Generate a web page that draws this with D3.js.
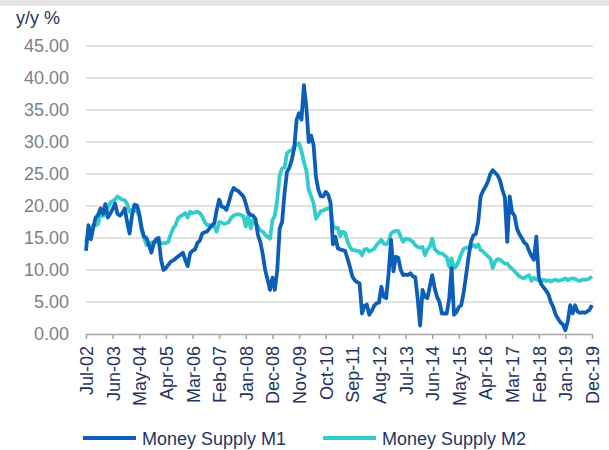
<!DOCTYPE html>
<html>
<head>
<meta charset="utf-8">
<script src="https://cdn.jsdelivr.net/npm/d3@7"></script>
<style>
  body { margin: 0; background: #fff; }
  svg { display: block; font-family: "Liberation Sans", Arial, sans-serif; }
</style>
</head>
<body>
<svg id="canvas" width="609" height="450"></svg>
<script>
// monthly y/y %, Jul-02 .. Dec-19 (210 months)
var m1 = [
  13.0, 17.0, 14.8, 16.6, 18.2, 18.6, 19.6, 18.8, 20.3, 18.2,
  18.8, 19.5, 20.4, 18.8, 18.5, 18.9, 19.6, 17.5, 15.7, 18.5,
  20.2, 20.1, 18.8, 16.5, 15.2, 15.0, 13.9, 12.7, 14.2, 14.8,
  15.0, 11.6, 10.0, 10.3, 10.8, 11.3, 11.5, 11.8, 12.1, 12.4,
  12.7, 11.6, 10.6, 12.6, 13.0, 13.2, 14.2, 14.6, 15.7, 15.9,
  16.0, 16.5, 17.0, 17.3, 19.4, 21.0, 19.9, 19.8, 19.4, 20.6,
  22.0, 22.8, 22.5, 22.3, 21.9, 21.5, 20.4, 19.0, 18.6, 18.5,
  18.0, 15.5, 14.4, 12.5, 10.0, 8.5, 6.9, 8.8, 6.9, 10.0,
  16.5, 17.5, 22.0, 25.3, 26.0, 27.2, 29.0, 33.5, 34.5, 33.5,
  38.9, 35.5, 30.0, 31.0, 29.5, 24.5, 22.5, 21.5, 21.5, 22.2,
  21.8, 20.5, 14.0, 15.2, 13.4, 13.2, 13.1, 13.0, 11.8, 10.5,
  9.0, 8.4, 8.1, 7.9, 3.2, 4.4, 4.6, 3.0, 3.6, 4.4,
  4.8, 4.9, 7.4, 5.8, 5.6, 9.5, 14.7, 9.8, 12.1, 11.9,
  10.0, 9.2, 9.3, 9.2, 9.5, 9.0, 8.9, 5.5, 1.3, 6.9,
  5.8, 5.6, 7.4, 9.2, 7.2, 5.8, 5.0, 3.2, 3.2, 3.2,
  5.5, 10.3, 3.0, 3.4, 4.2, 4.5, 6.5, 9.2, 12.0, 14.4,
  15.4, 15.6, 17.5, 21.5, 22.4, 23.0, 23.8, 25.0, 25.6, 25.2,
  24.8, 24.0, 22.5, 21.4, 14.4, 21.5, 19.0, 18.5, 16.5, 15.6,
  15.0, 14.3, 14.0, 13.0, 12.2, 11.6, 15.2, 9.0, 7.8, 7.3,
  6.8, 6.2, 5.0, 4.2, 3.0, 2.4, 1.8, 1.5, 0.6, 2.0,
  4.5, 3.2, 4.5, 3.5, 3.3, 3.4, 3.3, 3.5, 3.8, 4.5
];
var m2 = [
  14.4, 15.8, 16.5, 17.0, 17.0, 17.2, 19.0, 18.4, 19.0, 19.6,
  20.5, 20.8, 21.0, 21.5, 21.2, 21.0, 20.9, 20.3, 19.1, 19.4,
  19.4, 19.2, 18.4, 16.2, 15.0, 13.9, 13.9, 14.3, 14.4, 14.4,
  14.3, 14.2, 14.2, 14.2, 14.4, 15.6, 16.5, 17.0, 18.1, 18.4,
  18.6, 18.9, 18.2, 19.1, 18.9, 19.0, 19.1, 18.9, 18.4, 17.5,
  17.0, 17.0, 16.9, 16.8, 16.0, 17.5, 17.4, 17.2, 17.3, 17.5,
  18.2, 18.5, 18.7, 18.7, 18.6, 18.4, 16.8, 18.5, 16.5, 17.8,
  17.3, 16.8, 16.2, 16.0, 15.5, 15.2, 14.9, 17.8, 18.5, 21.0,
  24.8, 25.9, 26.0, 28.2, 28.6, 28.7, 29.3, 29.6, 29.8, 28.6,
  26.9, 25.6, 22.5, 21.5, 20.4, 18.0, 18.6, 19.2, 19.3, 19.5,
  19.6, 19.7, 17.0, 16.5, 16.6, 15.3, 16.0, 15.8, 14.5, 13.6,
  13.1, 13.1, 13.0, 12.9, 12.3, 13.2, 13.3, 12.9, 13.1, 13.3,
  13.9, 14.3, 14.7, 14.1, 14.0, 14.5, 15.7, 16.0, 16.1, 16.1,
  15.2, 14.4, 14.9, 14.8, 14.7, 14.4, 13.9, 13.6, 13.5, 13.6,
  12.3, 13.2, 13.6, 14.9, 13.3, 12.9, 12.6, 12.6, 12.3, 12.0,
  10.5, 11.8, 10.3, 10.6, 11.5, 12.5, 13.3, 13.5, 13.5, 13.6,
  13.9, 13.6, 14.0, 13.1, 12.9, 12.5, 12.1, 11.8, 10.3, 11.3,
  11.7, 11.6, 11.3, 11.0, 11.0, 10.5, 10.2, 9.8, 9.4, 9.0,
  8.8, 8.7, 9.0, 9.2, 8.3, 8.8, 8.5, 8.4, 8.2, 8.5,
  8.3, 8.4, 8.2, 8.4, 8.5, 8.3, 8.4, 8.5, 8.7, 8.4,
  8.6, 8.7, 8.6, 8.4, 8.3, 8.5, 8.5, 8.5, 8.7, 9.0
];
var tickLabels = ["Jul-02", "Jun-03", "May-04", "Apr-05", "Mar-06", "Feb-07", "Jan-08",
  "Dec-08", "Nov-09", "Oct-10", "Sep-11", "Aug-12", "Jul-13", "Jun-14", "May-15",
  "Apr-16", "Mar-17", "Feb-18", "Jan-19", "Dec-19"];
var yTicks = [0, 5, 10, 15, 20, 25, 30, 35, 40, 45];
var seriesNames = ["Money Supply M1", "Money Supply M2"];

var svg = d3.select("#canvas");
var navy = "#1f3560", blue = "#0d5eb6", teal = "#33cccc";

// thin grey band across the top
svg.append("rect").attr("x", 0).attr("y", 0).attr("width", 609).attr("height", 6).attr("fill", "#e4e4e4");

var x = d3.scaleLinear().domain([0, m1.length - 1]).range([86, 592]);
var y = d3.scaleLinear().domain([0, 45]).range([334, 46]);

// gridlines
svg.append("g").selectAll("line")
  .data(yTicks.filter(d => d > 0))
  .enter().append("line")
  .attr("x1", 86).attr("x2", 593)
  .attr("y1", d => y(d)).attr("y2", d => y(d))
  .attr("stroke", "#d9d9d9").attr("stroke-width", 1.5);

// y labels
svg.append("g").selectAll("text")
  .data(yTicks)
  .enter().append("text")
  .attr("x", 69).attr("y", d => y(d)).attr("dy", "0.36em")
  .attr("text-anchor", "end")
  .attr("fill", "#808080").style("font-size", "18px")
  .text(d => d.toFixed(2));

svg.append("text").attr("x", 16).attr("y", 24)
  .attr("fill", navy).style("font-size", "18px").text("y/y %");

// x axis
var tickIdx = tickLabels.map((d, i) => i * 11);
var xAxis = d3.axisBottom(x).tickValues(tickIdx)
  .tickFormat((d, i) => tickLabels[i]).tickSize(5).tickSizeOuter(0);
var gx = svg.append("g").attr("transform", "translate(0,334)").call(xAxis);
gx.select(".domain").attr("stroke", "#a6a6a6").attr("stroke-width", 1.5);
gx.selectAll(".tick line").attr("stroke", "#a6a6a6").attr("stroke-width", 1.5);
gx.selectAll(".tick text")
  .attr("fill", navy).style("font-size", "18px")
  .style("font-family", "'Liberation Sans', Arial, sans-serif")
  .attr("text-anchor", "end")
  .attr("transform", "rotate(-90)")
  .attr("x", -12).attr("y", 0).attr("dy", "0.36em");

// lines
var line = d3.line().x((d, i) => x(i)).y(d => y(d));
svg.append("path").datum(m2).attr("d", line)
  .attr("fill", "none").attr("stroke", teal).attr("stroke-width", 3.8)
  .attr("stroke-linejoin", "round");
svg.append("path").datum(m1).attr("d", line)
  .attr("fill", "none").attr("stroke", blue).attr("stroke-width", 3.8)
  .attr("stroke-linejoin", "round");

// legend
var legend = svg.append("g").selectAll("g")
  .data(seriesNames)
  .enter().append("g")
  .attr("transform", (d, i) => "translate(" + (i === 0 ? 83 : 323) + ",438)");
legend.append("line").attr("x1", 0).attr("x2", 53).attr("y1", 0).attr("y2", 0)
  .attr("stroke", (d, i) => i === 0 ? blue : teal).attr("stroke-width", 4);
legend.append("text").attr("x", 59).attr("y", 7)
  .attr("fill", navy).style("font-size", "18px").text(d => d);
</script>
</body>
</html>
